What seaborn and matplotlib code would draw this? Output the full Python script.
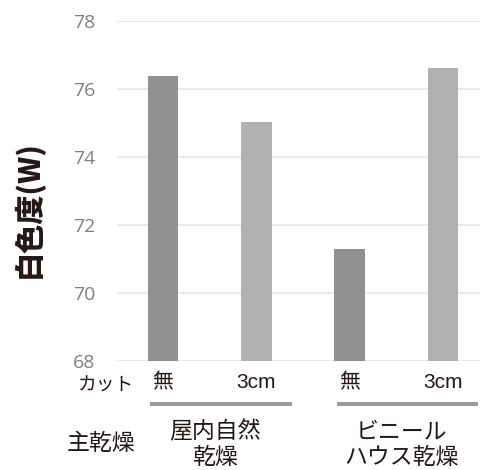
import matplotlib
matplotlib.use("Agg")
import matplotlib.pyplot as plt
import seaborn as sns
import pandas as pd

# ---- data ----
cut_labels = ["無", "3cm", "無", "3cm"]
group_labels = ["屋内自然\n乾燥", "ビニール\nハウス乾燥"]
bar_groups = [0, 0, 1, 1]
values = [76.38, 75.03, 71.29, 76.62]
y_ticks = [68, 70, 72, 74, 76, 78]
y_label = "白色度(W)"
cut_title = "カット"
group_title = "主乾燥"

sns.set_theme(style="white")
plt.rcParams['font.family'] = ['Noto Sans CJK JP', 'DejaVu Sans']

W, H = 481, 470
fig = plt.figure(figsize=(W / 100, H / 100), dpi=100)
ax = fig.add_axes([117 / W, 1 - 361 / H, (481 - 117) / W, (361 - 21) / H])

df = pd.DataFrame({
    "pos": [str(i) for i in range(len(values))],
    "cut": cut_labels,
    "value": values,
})
palette = {"無": "#919191", "3cm": "#b0b1b2"}
sns.barplot(data=df, x="pos", y="value", hue="cut", palette=palette,
            dodge=False, width=0.33, legend=False, ax=ax, zorder=3,
            linewidth=0, saturation=1)

ax.set_ylim(68, 78)
ax.set_xlim(-0.493, 3.407)
ax.set_yticks(y_ticks)
ax.set_yticklabels([str(t) for t in y_ticks], fontsize=14, color="#808080",
                   family=["Open Sans", "DejaVu Sans"])
ax.yaxis.grid(True, color="#e6e6e6", linewidth=1.2, zorder=0)
ax.set_axisbelow(True)
for s in ax.spines.values():
    s.set_visible(False)
ax.tick_params(axis="y", length=0, pad=15.5)
ax.tick_params(axis="x", length=0, pad=9)
ax.set_xticks(range(len(cut_labels)))
ax.set_xticklabels(cut_labels, fontsize=15, color="#231815",
                   family=["Liberation Sans", "Noto Sans CJK JP"])
ax.set_xlabel("")
ax.set_ylabel("")
fig.text(28 / W, 1 - 209 / H, y_label, rotation=90, ha="center", va="center",
         fontsize=21, fontweight="heavy", color="#231815")

# row titles
fig.text(134 / W, 1 - 385 / H, cut_title, ha="right", va="center", fontsize=13.5, color="#231815")
fig.text(135 / W, 1 - 444 / H, group_title, ha="right", va="center", fontsize=16.5, color="#231815")

# group lines and labels
line_y = (361 - 403.5) / (361 - 21)
text_y = (361 - 444.5) / (361 - 21)
for g, lab in enumerate(group_labels):
    idx = [i for i, b in enumerate(bar_groups) if b == g]
    x0, x1 = min(idx) - 0.14, max(idx) + 0.38
    ax.plot([x0, x1], [line_y, line_y], transform=ax.get_xaxis_transform(),
            color="#999999", linewidth=2.8, clip_on=False, solid_capstyle="butt")
    xc = (min(idx) + max(idx)) / 2 + 0.06
    ax.text(xc, text_y, lab, transform=ax.get_xaxis_transform(), ha="center", va="center",
            fontsize=16.5, color="#231815", linespacing=1.15)

fig.savefig("out.png", dpi=100)
